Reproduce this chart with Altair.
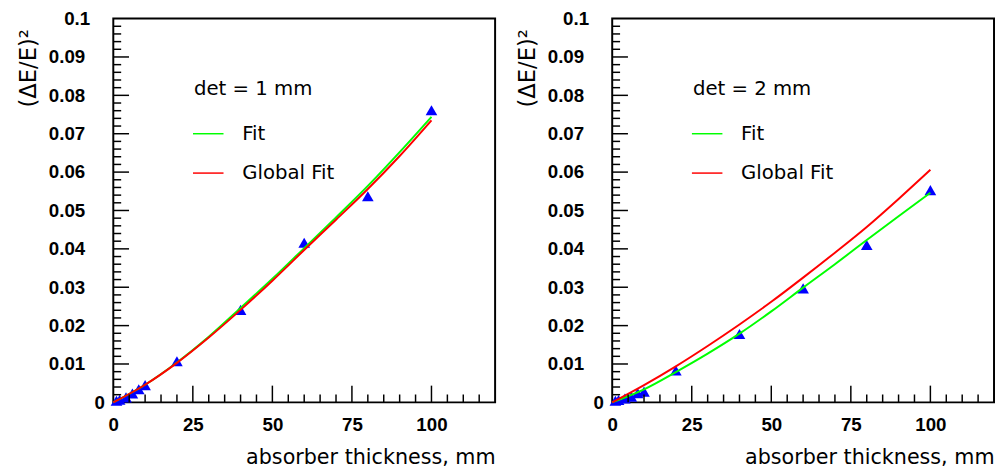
import altair as alt
import pandas as pd

# ---- data ----
thickness = [1, 2, 4, 6, 8, 10, 20, 40, 60, 80, 100]
res_det1 = [0.0004, 0.0007, 0.0013, 0.0023, 0.0034, 0.0045, 0.0107, 0.0241, 0.0416, 0.0537, 0.0761]
res_det2 = [0.0004, 0.0006, 0.0010, 0.0015, 0.0024, 0.0028, 0.0083, 0.0178, 0.0297, 0.0410, 0.0553]

curve_x = [0, 10, 20, 30, 40, 50, 60, 70, 80, 90, 100]
fit_det1 = [0, 0.0046, 0.0104, 0.0171, 0.0246, 0.0322, 0.0402, 0.0482, 0.0564, 0.0652, 0.0744]
glob_det1 = [0, 0.0046, 0.0103, 0.0169, 0.0241, 0.0317, 0.0397, 0.0476, 0.0556, 0.0642, 0.0735]
fit_det2 = [0, 0.0034, 0.0079, 0.0127, 0.0179, 0.0237, 0.0299, 0.0360, 0.0423, 0.0485, 0.0546]
glob_det2 = [0, 0.0045, 0.0094, 0.0147, 0.0203, 0.0262, 0.0325, 0.0390, 0.0457, 0.0530, 0.0606]

x_label_values = [0, 25, 50, 75, 100]
y_label_values = [0, 0.01, 0.02, 0.03, 0.04, 0.05, 0.06, 0.07, 0.08, 0.09, 0.1]
x_major_ticks = [25, 50, 75, 100]
x_minor_ticks = [5, 10, 15, 20, 30, 35, 40, 45, 55, 60, 65, 70, 80, 85, 90, 95, 105, 110, 115]
y_major_ticks = [0.01, 0.02, 0.03, 0.04, 0.05, 0.06, 0.07, 0.08, 0.09]
y_minor_ticks = [round(i * 0.002, 4) for i in range(1, 50) if i % 5 != 0]

legend_labels = ["Fit", "Global Fit"]
legend_colors = ["#00ff00", "#ff0000"]

W, H = 388, 390
TICK_FONT = "Liberation Sans"
TEXT_FONT = "DejaVu Sans"

xscale = alt.Scale(domain=[0, 120], nice=False, zero=False)
yscale = alt.Scale(domain=[0, 0.1], nice=False, zero=False)

xaxis = alt.Axis(
    values=x_label_values, ticks=False, domain=False, grid=False,
    labelFont=TICK_FONT, labelFontWeight="bold", labelFontSize=19, labelColor="black",
    labelPadding=14, labelFlush=False, labelOverlap=False,
    title="absorber thickness, mm", titleFont=TEXT_FONT, titleFontSize=21,
    titleFontWeight="normal", titleColor="black", titleAlign="right",
    titleAnchor="end", titleX=W, titleY=62, titleBaseline="alphabetic",
)
yaxis = alt.Axis(
    values=y_label_values, format="~g", ticks=False, domain=False, grid=False,
    labelFont=TICK_FONT, labelFontWeight="bold", labelFontSize=19, labelColor="black",
    labelPadding={"condition": [{"test": "datum.value == 0", "value": 9},
                                {"test": "datum.value >= 0.095", "value": 24}],
                  "value": 29},
    labelFlush=False, labelOverlap=False,
    title="(ΔE/E)²", titleFont=TEXT_FONT, titleFontSize=23, titleFontWeight="normal",
    titleColor="black", titleAngle=270, titleX=-86, titleY=50,
    titleAlign="center", titleBaseline="middle",
)

X = lambda: alt.X("x:Q", scale=xscale, axis=xaxis)
Y = lambda: alt.Y("y:Q", scale=yscale, axis=yaxis)


def panel(res, fit, glob, det_label):
    pts = pd.DataFrame({"x": thickness, "y": res})
    curves = pd.DataFrame({
        "x": curve_x + curve_x,
        "y": fit + glob,
        "s": [legend_labels[0]] * len(curve_x) + [legend_labels[1]] * len(curve_x),
    })

    xt_major = alt.Chart(pd.DataFrame({"x": x_major_ticks})).mark_rule(
        color="black", strokeWidth=1.5).encode(x=X(), y=alt.value(H), y2=alt.value(H - 17))
    xt_minor = alt.Chart(pd.DataFrame({"x": x_minor_ticks})).mark_rule(
        color="black", strokeWidth=1.5).encode(x=X(), y=alt.value(H), y2=alt.value(H - 8))
    yt_major = alt.Chart(pd.DataFrame({"y": y_major_ticks})).mark_rule(
        color="black", strokeWidth=1.5).encode(y=Y(), x=alt.value(0), x2=alt.value(16))
    yt_minor = alt.Chart(pd.DataFrame({"y": y_minor_ticks})).mark_rule(
        color="black", strokeWidth=1.5).encode(y=Y(), x=alt.value(0), x2=alt.value(8))

    points = alt.Chart(pts).mark_point(
        shape="triangle-up", filled=True, size=140, color="#0000ff", opacity=1).encode(
        x=X(), y=Y())
    lines = alt.Chart(curves).mark_line(strokeWidth=2, interpolate="monotone").encode(
        x=X(), y=Y(),
        color=alt.Color("s:N", scale=alt.Scale(domain=legend_labels, range=legend_colors),
                        legend=None),
    )

    leg_df = pd.DataFrame({"label": legend_labels, "color": legend_colors,
                           "yy": [117, 157]})
    leg_lines = alt.Chart(leg_df).mark_rule(strokeWidth=1.5).encode(
        x=alt.value(81), x2=alt.value(112), y=alt.Y("yy:Q", scale=None),
        color=alt.Color("color:N", scale=None))
    leg_text = alt.Chart(leg_df).mark_text(
        align="left", baseline="middle", font=TEXT_FONT, fontSize=20,
        fontWeight="normal", color="black").encode(
        x=alt.value(131), y=alt.Y("yy:Q", scale=None), text="label:N")
    det_text = alt.Chart(pd.DataFrame({"t": [det_label]})).mark_text(
        align="left", baseline="middle", font=TEXT_FONT, fontSize=20,
        fontWeight="normal", color="black").encode(
        x=alt.value(82), y=alt.value(72), text="t:N")

    return alt.layer(points, lines, xt_minor, xt_major, yt_minor, yt_major,
                     leg_lines, leg_text, det_text).properties(width=W, height=H)


left = panel(res_det1, fit_det1, glob_det1, "det = 1 mm")
right = panel(res_det2, fit_det2, glob_det2, "det = 2 mm")

chart = alt.hconcat(left, right, spacing=20).properties(
    padding={"left": 9, "top": -3, "right": 0, "bottom": 0},
    background="white",
).configure_view(stroke="black", strokeWidth=2)

chart.save("out.html", embed_options={"renderer": "svg", "actions": False})
